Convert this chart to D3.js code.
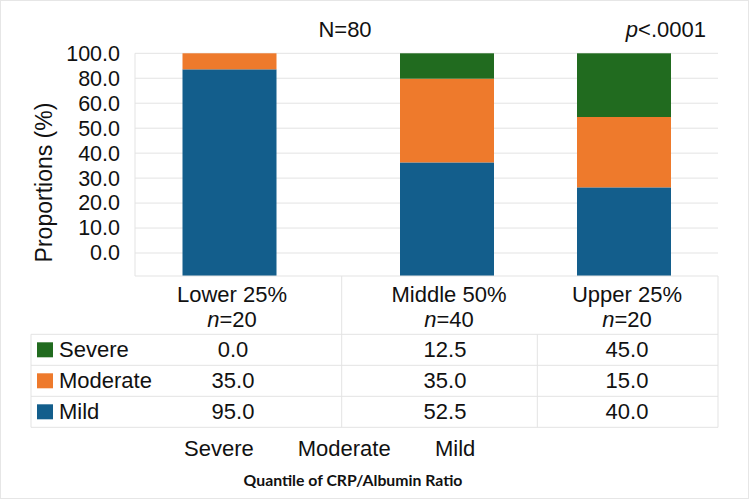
<!DOCTYPE html>
<html>
<head>
<meta charset="utf-8">
<script src="https://cdn.jsdelivr.net/npm/d3@7"></script>
<style>
  html, body { margin: 0; padding: 0; background: #fff; }
  svg text { font-family: "Liberation Sans", Arial, sans-serif; fill: #111; }
</style>
</head>
<body>
<svg id="chart" width="750" height="500"></svg>
<script>
// ---------- data ----------
const categories = ["Lower 25%", "Middle 50%", "Upper 25%"];
const groupN = [20, 40, 20];
const seriesNames = ["Severe", "Moderate", "Mild"];
// bar heights as drawn (percent of full column)
const barMild     = [92.8, 51.0, 39.8];
const barModerate = [7.2, 37.6, 31.6];
const barSevere   = [0.0, 11.4, 28.6];
// table values as printed
const tableSevere   = ["0.0", "12.5", "45.0"];
const tableModerate = ["35.0", "35.0", "15.0"];
const tableMild     = ["95.0", "52.5", "40.0"];
const tickLabels = ["0.0", "10.0", "20.0", "30.0", "40.0", "50.0", "60.0", "80.0", "100.0"];
const totalN = "N=80";
const pText = "<.0001";
const xTitle = "Quantile of CRP/Albumin Ratio";
const yTitle = "Proportions (%)";

const colors = { Severe: "#216b1f", Moderate: "#ee7a2c", Mild: "#135e8c" };
const grid = "#e3e3e3";

const svg = d3.select("#chart");

// frame
svg.append("rect").attr("x", 0.5).attr("y", 0.5).attr("width", 748).attr("height", 498)
  .attr("fill", "none").attr("stroke", "#e6e6e6");

const plotL = 135, plotR = 718, plotT = 53.3, plotB = 276;
const tableL = 31, rowH = 31, headB = 334.3;

const y = d3.scaleLinear().domain([0, 100]).range([plotB, plotT]);
const yTick = d3.scalePoint().domain(tickLabels).range([253, plotT]);
const xc = d3.scaleOrdinal().domain(categories).range([229.5, 447, 624]);
const xt = d3.scaleOrdinal().domain(categories).range([232, 449, 627]);
const barW = 94;

// gridlines + tick labels
const yAxis = d3.axisLeft(yTick).tickSize(0).tickPadding(15);
const ga = svg.append("g").attr("transform", `translate(${plotL},0)`).call(yAxis);
ga.select(".domain").remove();
ga.selectAll("text").style("font-size", "21.5px").attr("fill", "#111")
  .style("font-family", "'Liberation Sans', Arial, sans-serif");
svg.append("g").selectAll("line").data(tickLabels).join("line")
  .attr("x1", plotL).attr("x2", plotR)
  .attr("y1", d => yTick(d)).attr("y2", d => yTick(d))
  .attr("stroke", grid).attr("stroke-width", 1);

// plot border (left)
svg.append("line").attr("x1", plotL).attr("x2", plotL).attr("y1", plotT).attr("y2", plotB)
  .attr("stroke", grid);

// stacked bars
const stackData = categories.map((c, i) => ({ cat: c, Mild: barMild[i], Moderate: barModerate[i], Severe: barSevere[i] }));
const stack = d3.stack().keys(["Mild", "Moderate", "Severe"])(stackData);
svg.append("g").selectAll("g").data(stack).join("g")
  .attr("fill", s => colors[s.key])
  .selectAll("rect").data(s => s).join("rect")
  .attr("x", d => xc(d.data.cat) - barW / 2)
  .attr("width", barW)
  .attr("y", d => y(d[1]))
  .attr("height", d => y(d[0]) - y(d[1]));

// title texts
svg.append("text").attr("x", 345).attr("y", 37).attr("text-anchor", "middle")
  .style("font-size", "22px").text(totalN);
const pt = svg.append("text").attr("x", 706).attr("y", 37).attr("text-anchor", "end").style("font-size", "22px");
pt.append("tspan").style("font-style", "italic").text("p");
pt.append("tspan").text(pText);

// y title
svg.append("text").attr("transform", "translate(52,182.5) rotate(-90)").attr("text-anchor", "middle")
  .style("font-size", "23px").text(yTitle);

// ---------- table ----------
const tl = svg.append("g").attr("stroke", grid).attr("stroke-width", 1);
tl.append("line").attr("x1", plotL).attr("x2", plotR).attr("y1", plotB).attr("y2", plotB);
tl.append("line").attr("x1", plotR).attr("x2", plotR).attr("y1", plotB).attr("y2", headB + 3 * rowH);
tl.append("line").attr("x1", 341.7).attr("x2", 341.7).attr("y1", plotB).attr("y2", headB + 3 * rowH);
tl.append("line").attr("x1", 537.3).attr("x2", 537.3).attr("y1", headB).attr("y2", headB + 3 * rowH);
tl.append("line").attr("x1", tableL).attr("x2", tableL).attr("y1", headB).attr("y2", headB + 3 * rowH);
[0, 1, 2, 3].forEach(r => {
  tl.append("line").attr("x1", tableL).attr("x2", plotR)
    .attr("y1", headB + r * rowH).attr("y2", headB + r * rowH);
});

// header labels
categories.forEach((c, i) => {
  svg.append("text").attr("x", xt(c)).attr("y", 302).attr("text-anchor", "middle")
    .style("font-size", "22px").text(c);
  const t = svg.append("text").attr("x", xt(c)).attr("y", 327).attr("text-anchor", "middle")
    .style("font-size", "22px");
  t.append("tspan").style("font-style", "italic").text("n");
  t.append("tspan").text("=" + groupN[i]);
});

// rows
const tableRows = [tableSevere, tableModerate, tableMild];
const xv = d3.scaleOrdinal().domain(categories).range([233, 445, 627]);
seriesNames.forEach((s, r) => {
  const top = headB + r * rowH;
  svg.append("rect").attr("x", 37).attr("y", top + 8).attr("width", 16).attr("height", 15)
    .attr("fill", colors[s]);
  svg.append("text").attr("x", 59).attr("y", top + 23).style("font-size", "22px").text(s);
  tableRows[r].forEach((v, i) => {
    svg.append("text").attr("x", xv(categories[i])).attr("y", top + 23)
      .attr("text-anchor", "middle").style("font-size", "22px").text(v);
  });
});

// bottom legend text
const legX = d3.scaleOrdinal().domain(seriesNames).range([184, 297.7, 435]);
seriesNames.forEach(s => {
  svg.append("text").attr("x", legX(s)).attr("y", 456).style("font-size", "22px").text(s);
});

// x title
svg.append("text").attr("x", 353).attr("y", 486).attr("text-anchor", "middle")
  .style("font-family", "Lato, 'Open Sans', sans-serif").style("font-weight", "bold")
  .style("font-size", "15.8px").text(xTitle);
</script>
</body>
</html>
